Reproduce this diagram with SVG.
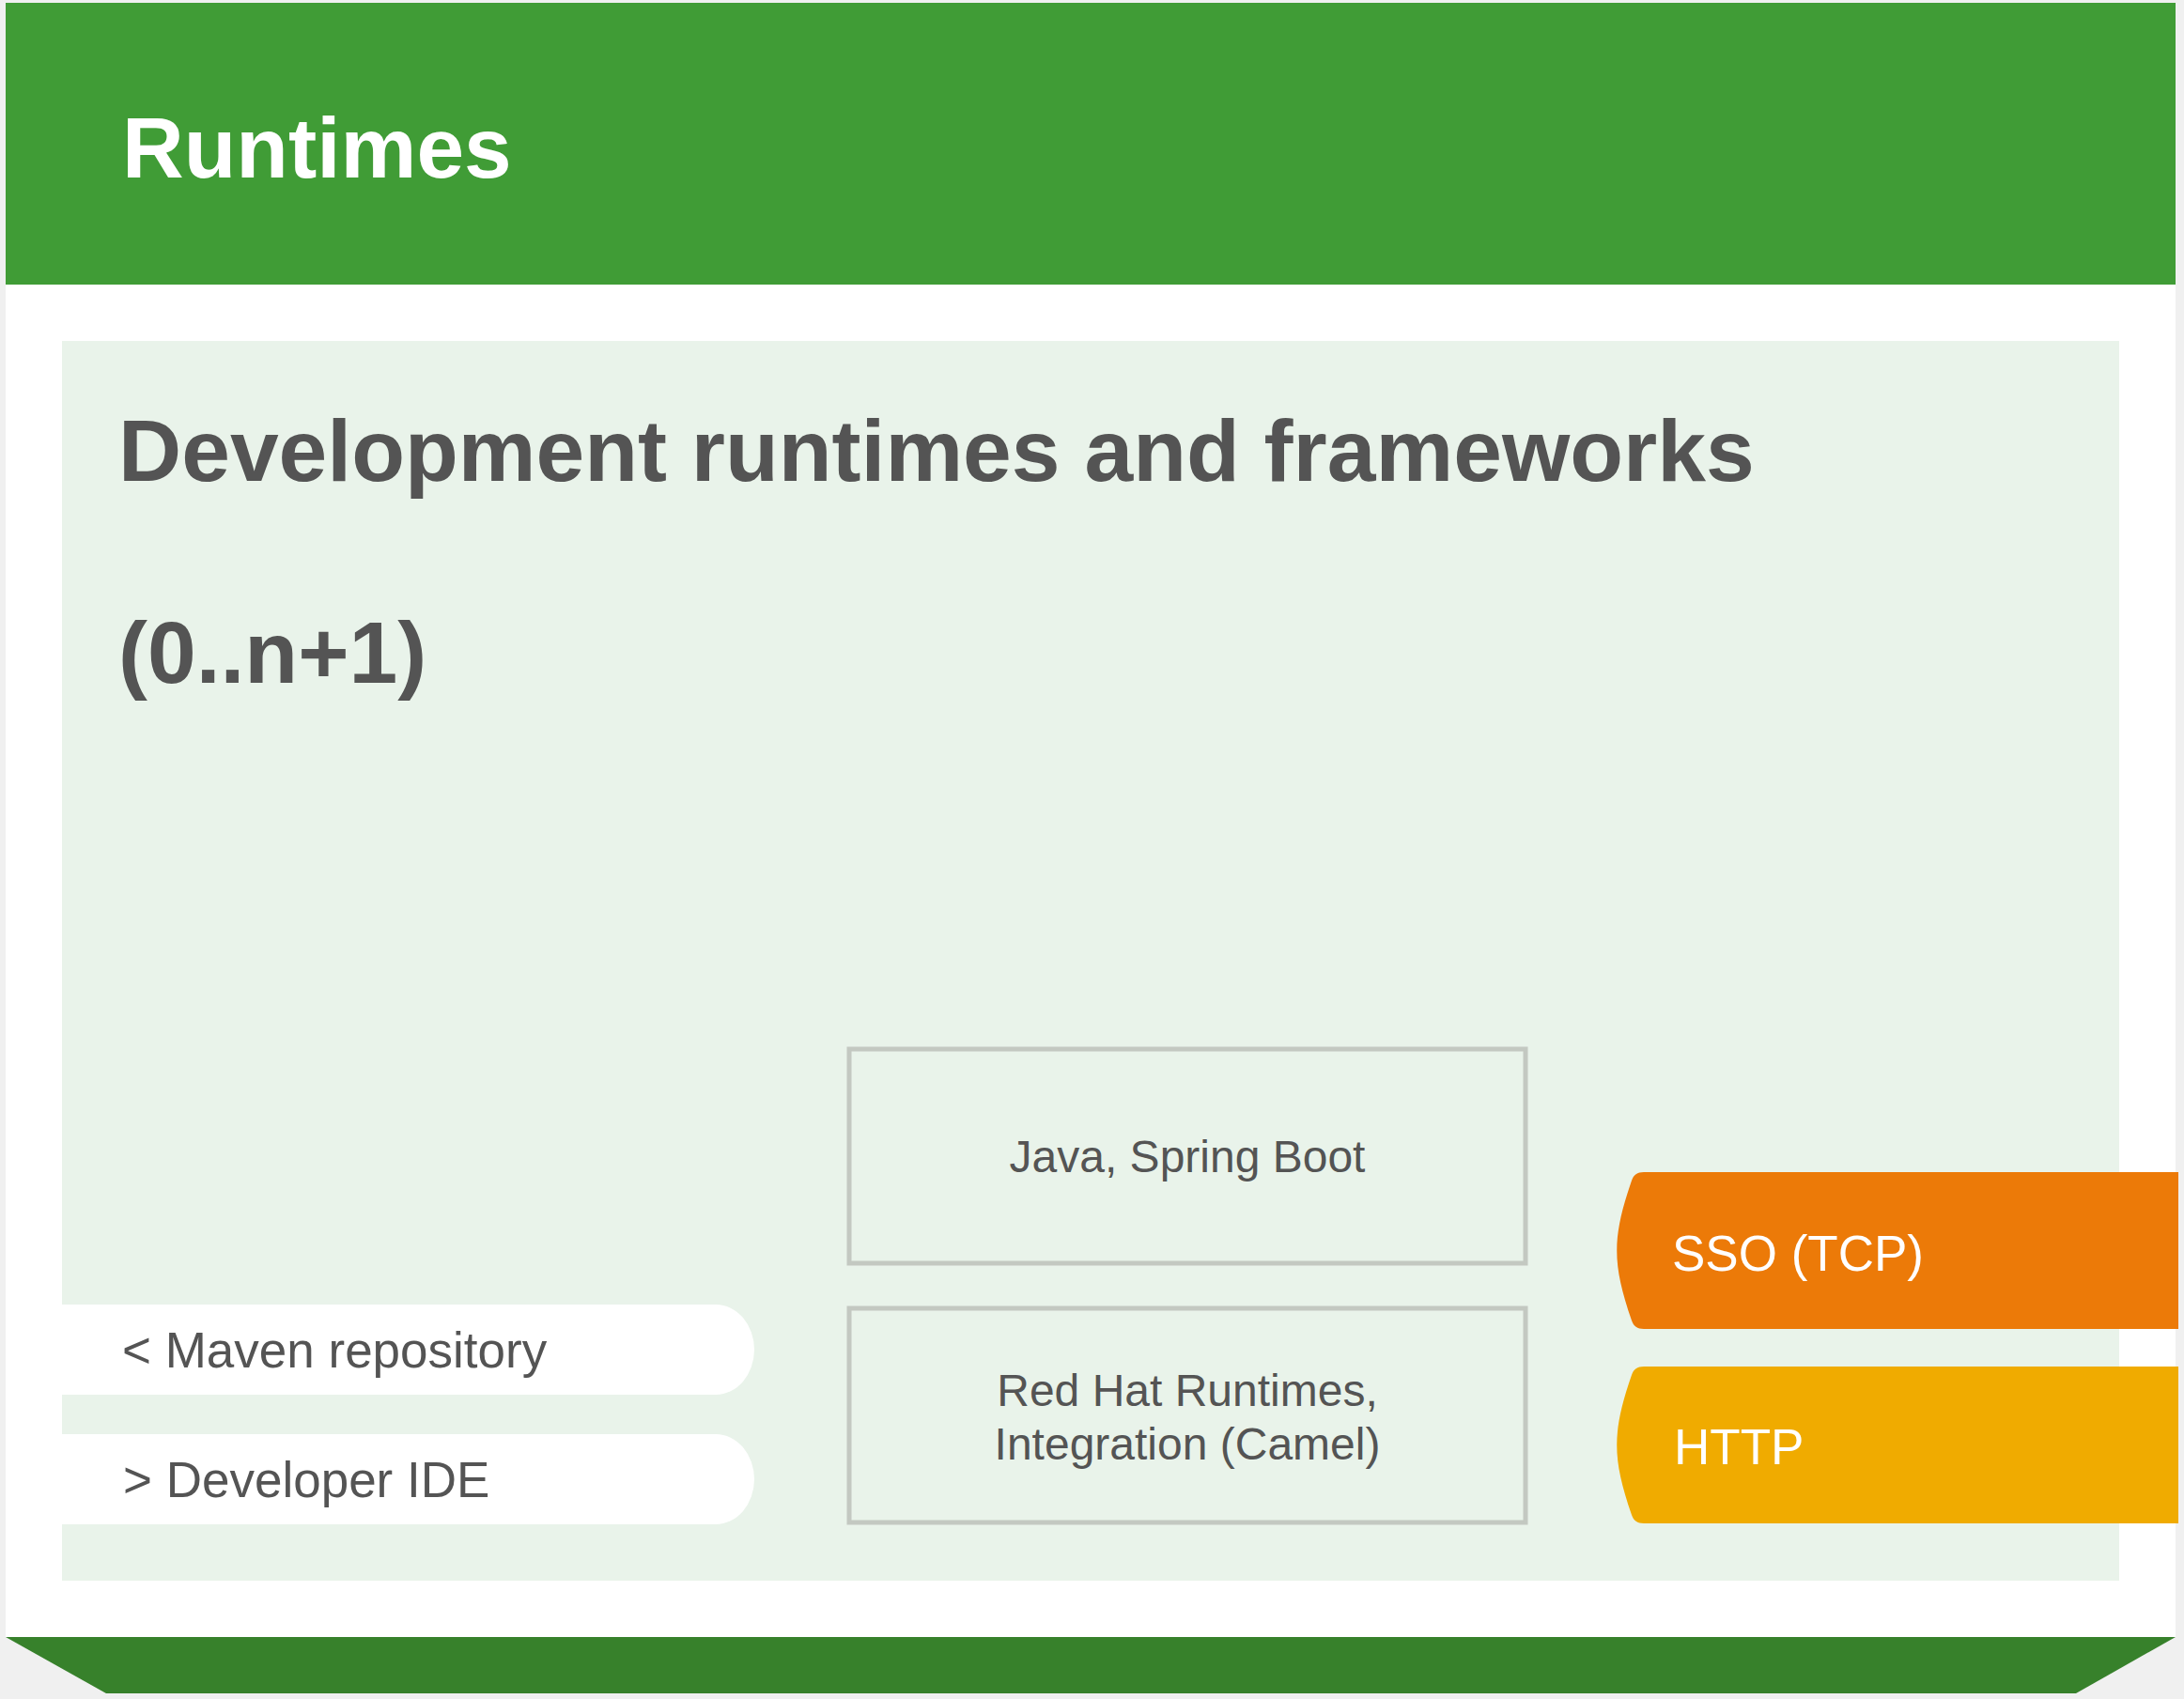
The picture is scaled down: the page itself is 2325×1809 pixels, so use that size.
<svg xmlns="http://www.w3.org/2000/svg" width="2325" height="1809" viewBox="0 0 2325 1809">
  <style>
    .title { font-family: "Liberation Sans", Arial, sans-serif; font-weight: bold; fill: #ffffff; }
    .heading { font-family: "Liberation Sans", Arial, sans-serif; font-weight: bold; fill: #545454; }
    .label { font-family: "Liberation Sans", Arial, sans-serif; fill: #545454; }
    .white { font-family: "Liberation Sans", Arial, sans-serif; fill: #ffffff; }
    .box { fill: none; stroke: #c3c8c1; stroke-width: 5; }
    .pill { fill: #ffffff; }
  </style>
  <rect x="0" y="0" width="2325" height="1809" fill="#f0f0f0"/>
  <g id="card">
    <rect x="6" y="3" width="2310" height="1740" fill="#ffffff"/>
    <rect x="6" y="3" width="2310" height="300" fill="#409c36"/>
    <text class="title" x="130" y="189" font-size="91">Runtimes</text>
    <polygon points="6,1743 2316,1743 2210,1803 113,1803" fill="#37812b"/>
  </g>
  <g id="panel">
    <rect x="66" y="363" width="2190" height="1320" fill="#e9f3ea"/>
    <text class="heading" x="126" y="512" font-size="93">Development runtimes and frameworks</text>
    <text class="heading" x="126" y="727" font-size="93">(0..n+1)</text>
  </g>
  <g id="node-java">
    <rect class="box" x="904" y="1117" width="720" height="228"/>
    <text class="label" x="1264" y="1248" font-size="48" text-anchor="middle">Java, Spring Boot</text>
  </g>
  <g id="node-redhat">
    <rect class="box" x="904" y="1393" width="720" height="228"/>
    <text class="label" x="1264" y="1497" font-size="48" text-anchor="middle">Red Hat Runtimes,</text>
    <text class="label" x="1264" y="1554" font-size="48" text-anchor="middle">Integration (Camel)</text>
  </g>
  <g id="node-maven">
    <path class="pill" d="M66,1389 H762 A41,48 0 0 1 803,1437 A41,48 0 0 1 762,1485 H66 Z"/>
    <text class="label" x="130" y="1456" font-size="53">&lt; Maven repository</text>
  </g>
  <g id="node-ide">
    <path class="pill" d="M66,1527 H762 A41,48 0 0 1 803,1575 A41,48 0 0 1 762,1623 H66 Z"/>
    <text class="label" x="131" y="1594" font-size="53">&gt; Developer IDE</text>
  </g>
  <g id="node-sso">
    <path d="M1750,1248 H2319 V1415 H1750 C1743,1415 1739,1412 1737,1406 C1716,1345 1716,1318 1737,1257 C1739,1251 1743,1248 1750,1248 Z" fill="#ec7a08"/>
    <text class="white" x="1780" y="1353" font-size="53">SSO (TCP)</text>
  </g>
  <g id="node-http">
    <path d="M1750,1455 H2319 V1622 H1750 C1743,1622 1739,1619 1737,1613 C1716,1552 1716,1525 1737,1464 C1739,1458 1743,1455 1750,1455 Z" fill="#f0ab00"/>
    <text class="white" x="1782" y="1559" font-size="53">HTTP</text>
  </g>
  <g id="connectors"></g>
</svg>
